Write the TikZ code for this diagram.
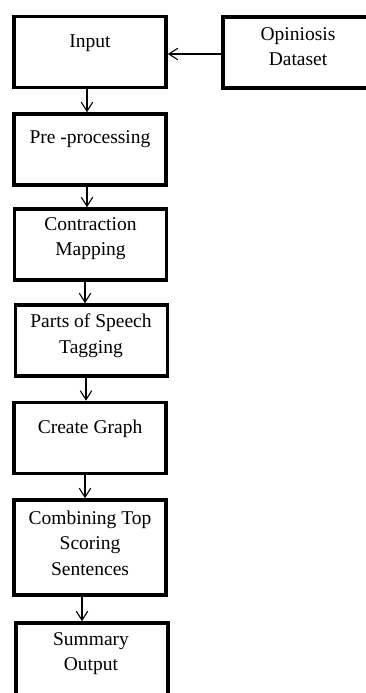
\documentclass[tikz,border=0pt]{standalone}
\usepackage{fontspec}
\setmainfont{Liberation Serif}
\usetikzlibrary{arrows.meta}

\tikzset{
  stagebox/.style={draw, line width=3.6pt, rectangle, inner sep=0pt,
    minimum width=152pt, minimum height=71pt},
  stagetext/.style={align=center, inner sep=0pt,
    font=\fontsize{19.5}{25.5}\selectfont},
  flow/.style={line width=1.1pt, -{Straight Barb[length=9pt,width=11.5pt,line width=1.1pt]}}
}

\begin{document}
\begin{tikzpicture}[x=1pt, y=-1pt]
  \useasboundingbox (0,0) rectangle (366,693);

  % process boxes
  \node[stagebox] (input) at (90,52) {};
  \node[stagebox, minimum width=150pt] (data) at (298,52.5) {};
  \node[stagebox] (pre) at (90,149.5) {};
  \node[stagebox] (contr) at (90.5,244.5) {};
  \node[stagebox] (pos) at (91.5,340.5) {};
  \node[stagebox] (graph) at (90,438) {};
  \node[stagebox, minimum height=95pt] (comb) at (90,547.5) {};
  \node[stagebox, minimum height=100pt] (summ) at (92,673) {};

  % box labels
  \node[stagetext] (input-t) at (90,43.5) {Input};
  \node[stagetext] (data-t) at (298,46.5) {Opiniosis\\Dataset};
  \node[stagetext] (pre-t) at (90,139.5) {Pre -processing};
  \node[stagetext] (contr-t) at (90.5,238.5) {Contraction\\Mapping};
  \node[stagetext] (pos-t) at (91,335.5) {Parts of Speech\\Tagging};
  \node[stagetext] (graph-t) at (90,428.5) {Create Graph};
  \node[stagetext] (comb-t) at (90,543) {Combining Top\\Scoring\\Sentences};
  \node[stagetext] (summ-t) at (91,653.5) {Summary\\Output};

  % connectors
  \coordinate (dataout) at ([yshift=-1.5pt]data.west);
  \draw[flow] (dataout) -- (input.east |- dataout);
  \draw[flow] ([xshift=-3pt]input.south) -- ([xshift=-3pt]input.south |- pre.north);
  \draw[flow] ([xshift=-3pt]pre.south) -- ([xshift=-3pt]pre.south |- contr.north);
  \draw[flow] ([xshift=-5.5pt]contr.south) -- ([xshift=-5.5pt]contr.south |- pos.north);
  \draw[flow] ([xshift=-5.5pt]pos.south) -- ([xshift=-5.5pt]pos.south |- graph.north);
  \draw[flow] ([xshift=-5pt]graph.south) -- ([xshift=-5pt]graph.south |- comb.north);
  \draw[flow] ([xshift=-8pt]comb.south) -- ([xshift=-8pt]comb.south |- summ.north);
\end{tikzpicture}
\end{document}
